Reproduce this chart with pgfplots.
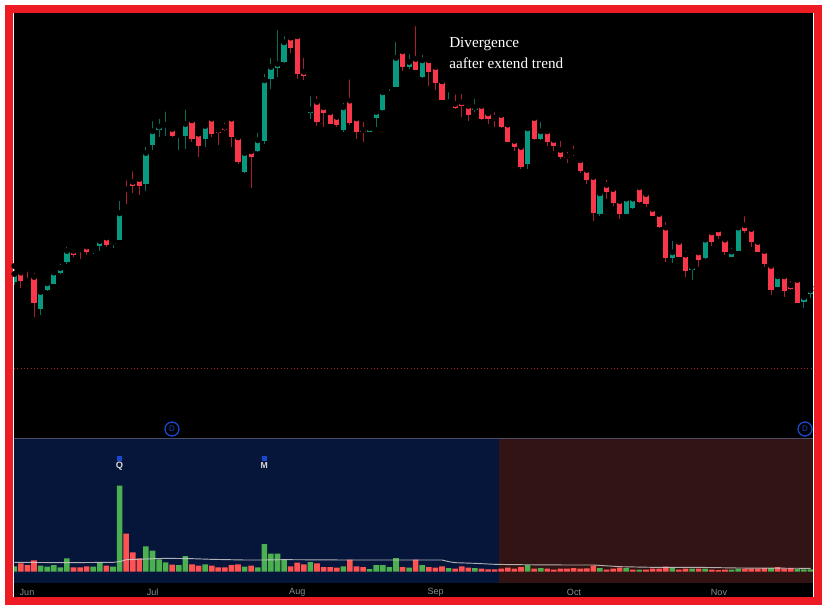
\documentclass[border=0pt]{standalone}
\usepackage{pgfplots}
\pgfplotsset{compat=1.18}
\usepackage{pgfplotstable}
\usepackage{fontspec}
\setmainfont{Liberation Serif}
\newfontfamily\lsans{Liberation Sans}
\definecolor{cgreen}{HTML}{089981}
\definecolor{cred}{HTML}{F9364A}
\definecolor{wgreen}{HTML}{0A6B5A}
\definecolor{wred}{HTML}{A8202F}
\definecolor{vgreen}{HTML}{4CAF50}
\definecolor{vred}{HTML}{FF5252}
\definecolor{navy}{HTML}{06153A}
\definecolor{maroon}{HTML}{331414}
\definecolor{frame}{HTML}{ED1C24}
\definecolor{dblue}{HTML}{1848CC}
% candles: index, wick top, body top, body bottom, wick bottom (screen scale, larger is lower)
\pgfplotstableread{
i wt bt bb wb
0 768 792 815 825
4 840 846 897 915
5 804 820 841 843
6 771 788 821 823
7 752 774 790 791
8 702 723 756 763
12 705 720 725 732
13 682 693 709 723
15 682 697 701 713
16 564 610 689 690
20 402 429 522 543
21 325 364 404 419
22 318 350 361 381
23 296 344 347 379
25 357 375 377 419
26 290 342 377 417
29 334 348 388 410
35 411 429 487 488
37 360 391 424 425
38 183 211 392 402
39 135 171 208 238
40 52 162 173 200
41 70 97 157 158
45 250 299 309 327
50 270 292 359 365
54 338 355 365 366
55 297 306 325 350
56 229 247 301 303
57 213 229 231 242
58 88 144 231 232
60 124 156 171 177
62 126 151 202 204
66 238 277 279 283
70 258 292 301 305
78 344 355 461 476
80 327 364 388 390
89 543 550 611 618
93 550 566 611 612
94 562 566 595 596
100 684 727 743 759
103 760 771 780 810
105 680 689 745 746
109 705 725 741 742
110 649 653 723 724
116 780 799 831 832
120 850 862 877 893
121 830 841 853 864
}\greencandles
\pgfplotstableread{
i wt bt bb wb
1 783 788 812 835
2 762 776 780 805
3 781 801 879 921
9 708 723 734 740
10 714 718 721 747
11 696 710 725 734
14 669 683 705 711
17 503 538 541 583
18 475 516 527 549
19 489 507 529 556
24 346 357 379 381
27 330 331 386 397
28 366 371 408 440
30 315 326 372 380
31 348 360 368 404
32 330 351 361 364
33 315 326 381 410
34 381 382 455 461
36 416 424 442 533
42 76 83 114 128
43 78 79 192 207
44 135 186 198 211
46 250 276 336 348
47 280 292 309 352
48 292 307 341 343
49 306 321 346 351
51 200 272 339 345
52 325 325 365 388
53 327 360 365 397
59 122 124 172 184
61 40 147 179 181
63 139 151 186 227
64 165 171 218 240
65 213 214 270 271
67 245 282 294 296
68 244 277 289 321
69 278 288 315 332
71 285 288 328 331
72 304 310 326 341
73 298 324 331 350
74 314 315 352 353
75 335 344 395 397
76 377 393 411 422
77 397 411 471 476
79 323 324 388 389
81 360 364 397 408
82 377 390 408 422
83 384 420 442 446
84 417 439 443 458
85 398 426 430 437
86 439 451 483 489
87 467 480 509 522
88 492 501 610 632
90 501 525 545 566
91 525 537 579 588
92 559 573 612 626
95 516 532 577 580
96 543 552 581 591
97 581 597 617 619
98 594 612 651 653
99 628 653 745 756
101 695 696 741 742
102 714 734 783 801
104 727 727 749 771
106 666 667 697 707
107 658 658 677 687
108 679 689 726 736
111 610 646 662 670
112 649 657 696 711
113 692 696 725 727
114 711 723 762 771
115 762 768 839 855
117 795 799 842 861
118 804 826 837 840
119 801 810 878 879
}\redcandles
% volumes
\pgfplotstableread{
i v
0 16
4 18
5 15
6 20
7 13
8 40
12 15
13 28
15 15
16 258
20 76
21 63
22 37
23 28
25 20
26 47
29 22
35 15
37 13
38 83
39 54
40 54
41 36
45 29
50 16
54 8
55 20
56 20
57 14
58 41
60 12
62 20
66 11
70 11
78 20
80 11
89 11
93 11
95 6
100 12
103 9
105 9
109 6
110 9
115 11
119 8
120 7
121 7
}\greenvol
\pgfplotstableread{
i v
1 25
2 20
3 34
9 13
10 13
11 16
14 18
17 114
18 58
19 40
24 21
27 22
28 18
30 18
31 13
32 13
33 20
34 22
36 18
42 16
43 27
44 22
46 25
47 14
48 14
49 12
51 36
52 16
53 14
59 14
61 36
63 14
64 12
65 16
67 9
68 16
69 12
71 9
72 7
73 7
74 9
75 12
76 9
77 14
79 9
81 9
82 6
83 9
84 9
85 11
86 9
87 10
88 18
90 6
91 9
92 12
94 6
96 6
97 9
98 9
99 15
101 6
102 9
104 9
106 6
107 5
108 6
111 9
112 9
113 9
114 11
116 14
117 9
118 11
}\redvol
\begin{document}
\begin{tikzpicture}
% full frame, in picture pixels
\begin{axis}[at={(0,0)},anchor=south west,scale only axis,width=621pt,height=458.25pt,
  xmin=0,xmax=828,ymin=0,ymax=611,y dir=reverse,hide axis,clip=true]
\fill[white] (axis cs:0,0) rectangle (axis cs:828,611);
\fill[frame] (axis cs:5,5) rectangle (axis cs:822,605);
\fill[white] (axis cs:13,13) rectangle (axis cs:814,597);
\fill[black] (axis cs:14,13) rectangle (axis cs:813,597);
\fill[navy] (axis cs:14,438.5) rectangle (axis cs:499,583);
\fill[maroon] (axis cs:499,438.5) rectangle (axis cs:813,583);
\draw[color=black!75!blue!40!gray,line width=0.6pt] (axis cs:14,438.5) -- (axis cs:813,438.5);
\draw[wred,dotted,line width=0.5pt] (axis cs:14,368.5) -- (axis cs:813,368.5);
\foreach \xx/\ll in {27/Jun,152.7/Jul,297.3/Aug,435.7/Sep,574/Oct,719/Nov}{
  \edef\tmp{\noexpand\node[text=black!45!white,font=\noexpand\lsans\noexpand\fontsize{6.8pt}{8pt}\noexpand\selectfont,inner sep=0pt] at (axis cs:\xx,592.5) {\ll};}\tmp
}
\node[anchor=west,inner sep=0pt,text=white,font=\fontsize{11.4pt}{13pt}\selectfont] at (axis cs:449,44) {Divergence};
\node[anchor=west,inner sep=0pt,text=white,font=\fontsize{11.4pt}{13pt}\selectfont] at (axis cs:449,63) {aafter extend trend};
\foreach \xx in {172,805}{
  \edef\tmp{\noexpand\node[circle,draw=dblue,line width=1pt,minimum size=10.5pt,inner sep=0pt,text=dblue,font=\noexpand\lsans\noexpand\fontsize{6pt}{7pt}\noexpand\selectfont] at (axis cs:\xx,429) {D};}\tmp
}
\end{axis}
% candles
\begin{axis}[at={(10.5pt,129.75pt)},anchor=south west,scale only axis,width=599.25pt,height=318.75pt,
  xmin=-0.046,xmax=121.38,ymin=9,ymax=1284,y dir=reverse,hide axis,clip=true]
\addplot[only marks,mark=none,error bars/.cd,y dir=plus,y explicit,error mark=none,
  error bar style={draw=wgreen,line width=0.75pt}]
  table[x=i,y=wt,y error plus expr=\thisrow{wb}-\thisrow{wt}] {\greencandles};
\addplot[only marks,mark=none,error bars/.cd,y dir=plus,y explicit,error mark=none,
  error bar style={draw=wred,line width=0.75pt}]
  table[x=i,y=wt,y error plus expr=\thisrow{wb}-\thisrow{wt}] {\redcandles};
\addplot[only marks,mark=none,error bars/.cd,y dir=plus,y explicit,error mark=none,
  error bar style={draw=cgreen,line width=3.9pt}]
  table[x=i,y=bt,y error plus expr=\thisrow{bb}-\thisrow{bt}] {\greencandles};
\addplot[only marks,mark=none,error bars/.cd,y dir=plus,y explicit,error mark=none,
  error bar style={draw=cred,line width=3.9pt}]
  table[x=i,y=bt,y error plus expr=\thisrow{bb}-\thisrow{bt}] {\redcandles};
\end{axis}
% volume
\begin{axis}[at={(10.5pt,21pt)},anchor=south west,scale only axis,width=599.25pt,height=108pt,
  xmin=-0.046,xmax=121.38,ymin=-34,ymax=398,hide axis,clip=true]
\addplot[ybar,bar shift=0pt,bar width=4.2pt,fill=vgreen,draw=none] table[x=i,y=v] {\greenvol};
\addplot[ybar,bar shift=0pt,bar width=4.2pt,fill=vred,draw=none] table[x=i,y=v] {\redvol};
\addplot[color=black!20!white,line width=0.7pt,opacity=0.85] coordinates {(0,28)(8,27)(15,28)(16,30)(17,36)(20,38)(23,40)(27,39)(30,37)(35,35)(38,35)(41,36)(50,35)(60,35)(65,35)(66,30)(67,27)(70,25)(73,22)(76,21)(84,20)(88,20)(92,15)(97,13)(104,13)(110,11)(121,10)};
\addplot[only marks,mark=square*,mark size=1.4pt,color=dblue] coordinates {(16,341)(38,341)};
\node[text=black!15!white,inner sep=0pt,font=\lsans\bfseries\fontsize{7pt}{8pt}\selectfont] at (axis cs:16,317) {Q};
\node[text=black!15!white,inner sep=0pt,font=\lsans\bfseries\fontsize{6.5pt}{8pt}\selectfont] at (axis cs:38,317) {M};
\end{axis}
\end{tikzpicture}
\end{document}
